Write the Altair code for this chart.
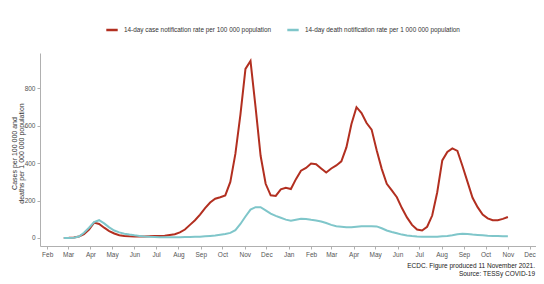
import altair as alt
import pandas as pd

# Weekly reporting dates (week starts)
week_start = "2020-02-24"
n_weeks = 89

case_name = "14-day case notification rate per 100 000 population"
death_name = "14-day death notification rate per 1 000 000 population"

cases = [0, 1, 3, 8, 20, 45, 82, 75, 55, 37, 24, 15, 11, 9, 8, 8, 8, 9, 10, 11, 12, 16,
         20, 30, 45, 70, 95, 125, 160, 190, 210, 218, 228, 300, 450, 660, 905, 947, 700, 440, 290,
         228, 225, 260, 268, 262, 315, 360, 375, 398, 395, 372, 350,
         372, 388, 410, 485, 610, 700, 668, 615, 580, 470, 370, 290, 255, 218, 160, 110, 70, 45,
         40, 60, 120, 245, 415, 460, 479, 466, 385, 300, 215, 165, 125, 105, 95, 95, 102, 112]

deaths = [0, 0, 1, 8, 28, 55, 85, 95, 78, 57, 40, 30, 23, 18, 14, 11, 8, 6, 5, 4,
          4, 4, 4, 4, 5, 5, 6, 7, 9, 11, 13, 17, 21, 27, 42, 75, 115, 152, 165, 165, 148,
          130, 118, 108, 98, 92, 98, 103, 102, 97, 94, 88, 80,
          70, 63, 60, 57, 57, 60, 63, 63, 63, 62, 52, 40, 32, 25, 18, 13, 10, 8, 7, 6,
          6, 7, 9, 11, 14, 20, 23, 21, 18, 16, 14, 12, 11, 10, 9, 9]

# Axis tick months (year, month)
tick_months = [(2020, m) for m in range(2, 13)] + [(2021, m) for m in range(1, 13)]
y_ticks = [0, 200, 400, 600, 800]

caption = ["ECDC. Figure produced 11 November 2021.", "Source: TESSy COVID-19"]
y_title = ["Cases per 100 000 and", "deaths per 1 000 000 population"]

dates = pd.date_range(week_start, periods=n_weeks, freq="7D").strftime("%Y-%m-%d")
df = pd.concat([
    pd.DataFrame({"date": dates, "value": cases, "series": case_name}),
    pd.DataFrame({"date": dates, "value": deaths, "series": death_name}),
])

FONT = "Liberation Sans"
GRAY = "#555555"

x_scale = alt.Scale(
    type="utc",
    domain=[alt.DateTime(year=2020, month=1, date=22, utc=True),
            alt.DateTime(year=2021, month=12, date=10, utc=True)],
)

lines = alt.Chart(df).mark_line(strokeWidth=2, interpolate="linear").encode(
    x=alt.X("date:T", scale=x_scale,
            axis=alt.Axis(values=[alt.DateTime(year=y, month=m, date=1, utc=True) for y, m in tick_months],
                          labelExpr="utcFormat(datum.value, '%b')",
                          title=None, grid=False, domainColor="#b0b0b0", tickColor="#b0b0b0",
                          tickSize=3, labelColor=GRAY, labelFontSize=6.5, labelFont=FONT,
                          labelPadding=2, labelFlush=False)),
    y=alt.Y("value:Q", scale=alt.Scale(domain=[-43, 990], nice=False, zero=False),
            axis=alt.Axis(values=y_ticks, title=y_title, grid=False, domainColor="#b0b0b0",
                          tickColor="#b0b0b0", tickSize=3, labelColor=GRAY, labelFontSize=6.5,
                          labelFont=FONT, labelPadding=2, titleFont=FONT, titleFontSize=7,
                          titleFontWeight="normal", titleColor="#333333",
                          titleX=-23, titleY=100, titleAlign="center", titleBaseline="bottom",
                          titleLineHeight=7)),
    color=alt.Color("series:N",
                    scale=alt.Scale(domain=[case_name, death_name], range=["#b22f20", "#7fc6ca"]),
                    legend=alt.Legend(title=None, orient="none", legendX=65, legendY=-30,
                                      direction="horizontal", symbolType="stroke",
                                      symbolStrokeWidth=2.5, symbolSize=130,
                                      labelFont=FONT, labelFontSize=6.4, labelColor="#333333",
                                      columnPadding=10, labelOffset=5)),
)

cap_df = pd.DataFrame({"text": [caption]})
cap = alt.Chart(cap_df).mark_text(align="right", baseline="middle", font=FONT, fontSize=6.5,
                                  color="#222222", lineHeight=8).encode(
    text="text", x=alt.value(495), y=alt.value(213)
)

chart = alt.layer(lines, cap).properties(
    width=496, height=193,
    autosize=alt.AutoSizeParams(type="none"),
    padding={"left": 32, "top": 45, "right": 0, "bottom": 38},
).configure_view(stroke=None)

chart.save("out.html", embed_options={"renderer": "svg", "actions": False})
